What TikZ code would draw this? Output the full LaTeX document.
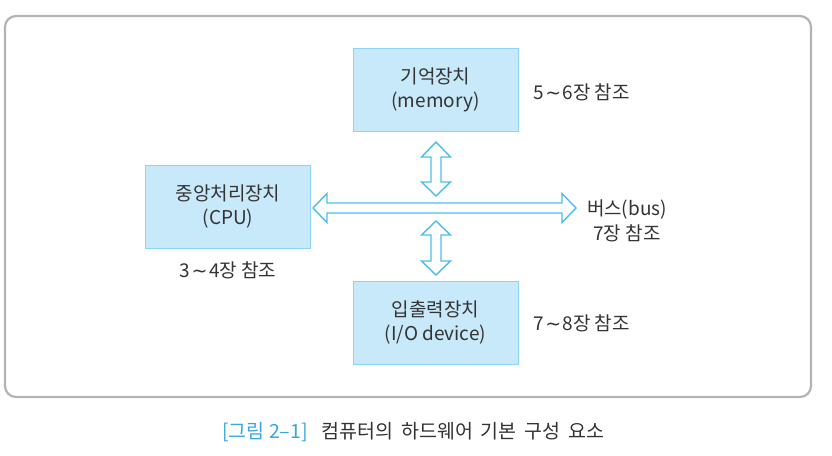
\documentclass[tikz,border=0pt]{standalone}
\usepackage{fontspec}
\setmainfont{Noto Sans CJK KR}
\newfontfamily\djv{DejaVu Sans}
\newcommand{\wv}{{\kern1.5pt\djv ∼\kern1.5pt}}
\definecolor{boxfill}{HTML}{C8E9FA}
\definecolor{boxline}{HTML}{8DD4F2}
\definecolor{arrline}{HTML}{4DBDEE}
\definecolor{frameline}{HTML}{B4B4B6}
\definecolor{captblue}{HTML}{3AA6E0}
\definecolor{txt}{HTML}{333333}
\tikzset{
  unitbox/.style={draw=boxline, fill=boxfill, line width=1pt, minimum width=165pt, minimum height=83pt, inner sep=0pt, align=center, text=txt, font=\fontsize{19}{24}\selectfont},
  lbl/.style={inner sep=0pt, text=txt, font=\fontsize{19}{25}\selectfont, align=center},
  dblarrow/.style={draw=arrline, fill=white, line width=1.4pt, line join=miter},
}
\begin{document}
\begin{tikzpicture}[x=1pt,y=-1pt]
\useasboundingbox (0,0) rectangle (832,455);
\fill[white] (0,0) rectangle (832,455);
\draw[frameline, line width=2.2pt, rounded corners=11pt] (5,16) rectangle (811,397);

\node[unitbox] (mem) at (435.5,90) {기억장치\\(memory)};
\node[unitbox] (cpu) at (228,206.5) {중앙처리장치\\(CPU)};
\node[unitbox] (io) at (435.5,322.5) {입출력장치\\(I/O device)};

\node[lbl, anchor=west] (memref) at (533,92) {5\wv6장 참조};
\node[lbl] (cpuref) at (228,270) {3\wv4장 참조};
\node[lbl, anchor=west] (iorref) at (533,323) {7\wv8장 참조};
\node[lbl] (bus) at (627,220.5) {버스(bus)\\7장 참조};

% horizontal bus arrow
\draw[dblarrow] (313,208) -- (327,193.5) -- (327,203) -- (562,203) -- (562,193.5) -- (576,208)
  -- (562,222.5) -- (562,213) -- (327,213) -- (327,222.5) -- cycle;
% upper vertical arrow
\draw[dblarrow] (436,142) -- (450.5,157) -- (441,157) -- (441,182) -- (450.5,182) -- (436,196)
  -- (421.5,182) -- (431,182) -- (431,157) -- (421.5,157) -- cycle;
% lower vertical arrow
\draw[dblarrow] (436,221) -- (450.5,235) -- (441,235) -- (441,261) -- (450.5,261) -- (436,275)
  -- (421.5,261) -- (431,261) -- (431,235) -- (421.5,235) -- cycle;

\node[inner sep=0pt, anchor=west, font=\fontsize{19.5}{22}\selectfont] (cap) at (222,432)
  {\textcolor{captblue}{[그림 2–1]}\hspace{14pt}\textcolor{txt}{컴퓨터의\hspace{3.5pt} 하드웨어\hspace{3.5pt} 기본\hspace{3.5pt} 구성\hspace{3.5pt} 요소}};
\end{tikzpicture}
\end{document}
